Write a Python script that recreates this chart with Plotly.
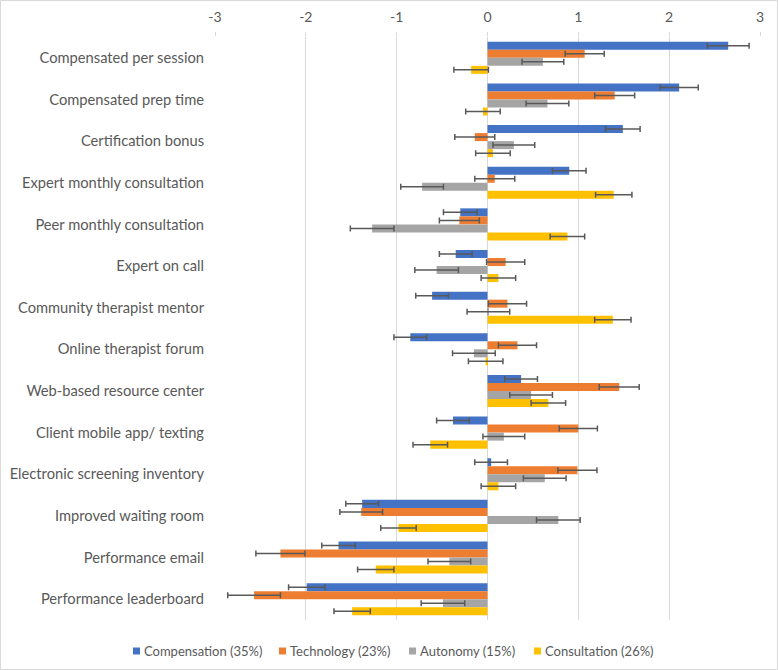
import plotly.graph_objects as go

categories = ["Compensated per session", "Compensated prep time", "Certification bonus",
              "Expert monthly consultation", "Peer monthly consultation", "Expert on call",
              "Community therapist mentor", "Online therapist forum", "Web-based resource center",
              "Client mobile app/ texting", "Electronic screening inventory", "Improved waiting room",
              "Performance email", "Performance leaderboard"]

compensation = [2.65, 2.11, 1.49, 0.90, -0.30, -0.35, -0.61, -0.85, 0.37, -0.38, 0.04, -1.38, -1.64, -1.99]
compensation_err = [0.23, 0.21, 0.19, 0.185, 0.185, 0.18, 0.18, 0.18, 0.18, 0.18, 0.18, 0.18, 0.185, 0.20]

technology = [1.07, 1.40, -0.14, 0.08, -0.31, 0.20, 0.22, 0.33, 1.45, 1.00, 0.99, -1.39, -2.28, -2.57]
technology_err = [0.215, 0.22, 0.22, 0.22, 0.22, 0.21, 0.21, 0.21, 0.22, 0.21, 0.215, 0.235, 0.27, 0.29]

autonomy = [0.61, 0.66, 0.29, -0.72, -1.27, -0.56, 0.01, -0.15, 0.48, 0.18, 0.63, 0.78, -0.42, -0.49]
autonomy_err = [0.23, 0.235, 0.23, 0.235, 0.24, 0.24, 0.235, 0.235, 0.235, 0.23, 0.235, 0.24, 0.235, 0.24]

consultation = [-0.18, -0.05, 0.06, 1.39, 0.88, 0.12, 1.38, -0.02, 0.67, -0.63, 0.12, -0.98, -1.23, -1.49]
consultation_err = [0.19, 0.19, 0.19, 0.20, 0.19, 0.19, 0.20, 0.19, 0.19, 0.19, 0.19, 0.195, 0.20, 0.20]

x_ticks = [-3, -2, -1, 0, 1, 2, 3]
x_ticktext = ["-3", "-2", "-1", "0", "1", "2", "3"]

series = [
    ("Compensation (35%)", compensation, compensation_err, "#4472C4"),
    ("Technology (23%)", technology, technology_err, "#ED7D31"),
    ("Autonomy (15%)", autonomy, autonomy_err, "#A5A5A5"),
    ("Consultation (26%)", consultation, consultation_err, "#FFC000"),
]

W, H = 778, 670
ml, mr, mt, mb = 215, 18, 37, 50
pw, ph = W - ml - mr, H - mt - mb

def px_x(p):  # page pixel -> paper x
    return (p - ml) / pw

def px_y(p):  # page pixel -> paper y
    return (H - mb - p) / ph

fig = go.Figure()
for name, vals, errs, color in series:
    fig.add_trace(go.Bar(
        y=categories, x=vals, name=name, orientation="h", showlegend=False,
        marker=dict(color=color, line=dict(width=0)),
        error_x=dict(type="data", array=errs, color="#595959", thickness=1.5, width=3),
    ))

# chart area border
fig.add_shape(type="rect", xref="paper", yref="paper",
              x0=px_x(0.5), x1=px_x(W - 0.5), y0=px_y(H - 0.5), y1=px_y(0.5),
              line=dict(color="#d9d9d9", width=1))

# legend drawn by hand, Excel style (small square + label)
legend_left = [133, 279, 409, 534]
legend_y = 651
for (name, _, _, color), lx in zip(series, legend_left):
    fig.add_shape(type="rect", xref="paper", yref="paper",
                  x0=px_x(lx), x1=px_x(lx + 7), y0=px_y(legend_y + 3.5), y1=px_y(legend_y - 3.5),
                  line=dict(width=0), fillcolor=color)
    fig.add_annotation(text=name, xref="paper", yref="paper", x=px_x(lx + 9), y=px_y(legend_y),
                       xanchor="left", yanchor="middle", showarrow=False,
                       font=dict(size=13, color="#595959"))

fig.update_layout(
    width=W, height=H,
    margin=dict(l=ml, r=mr, t=mt, b=mb),
    barmode="group", bargap=0.23, bargroupgap=0,
    plot_bgcolor="white", paper_bgcolor="white",
    font=dict(family="Lato", size=13, color="#595959"),
    showlegend=False,
    xaxis=dict(side="top", range=[-3, 3], tickvals=x_ticks, ticktext=x_ticktext,
               showgrid=True, gridcolor="#d9d9d9",
               zeroline=True, zerolinecolor="#d9d9d9", zerolinewidth=1,
               ticks="outside", ticklen=4, tickcolor="#d9d9d9", showline=False,
               ticklabelstandoff=4, automargin=False, tickfont=dict(size=14)),
    yaxis=dict(autorange="reversed", showgrid=False, ticks="", ticklabelstandoff=10,
               showline=False, automargin=False, tickfont=dict(size=14.7)),
)

fig.write_html("out.html", config={"displayModeBar": False},
               post_script="document.body.style.margin='0';")
